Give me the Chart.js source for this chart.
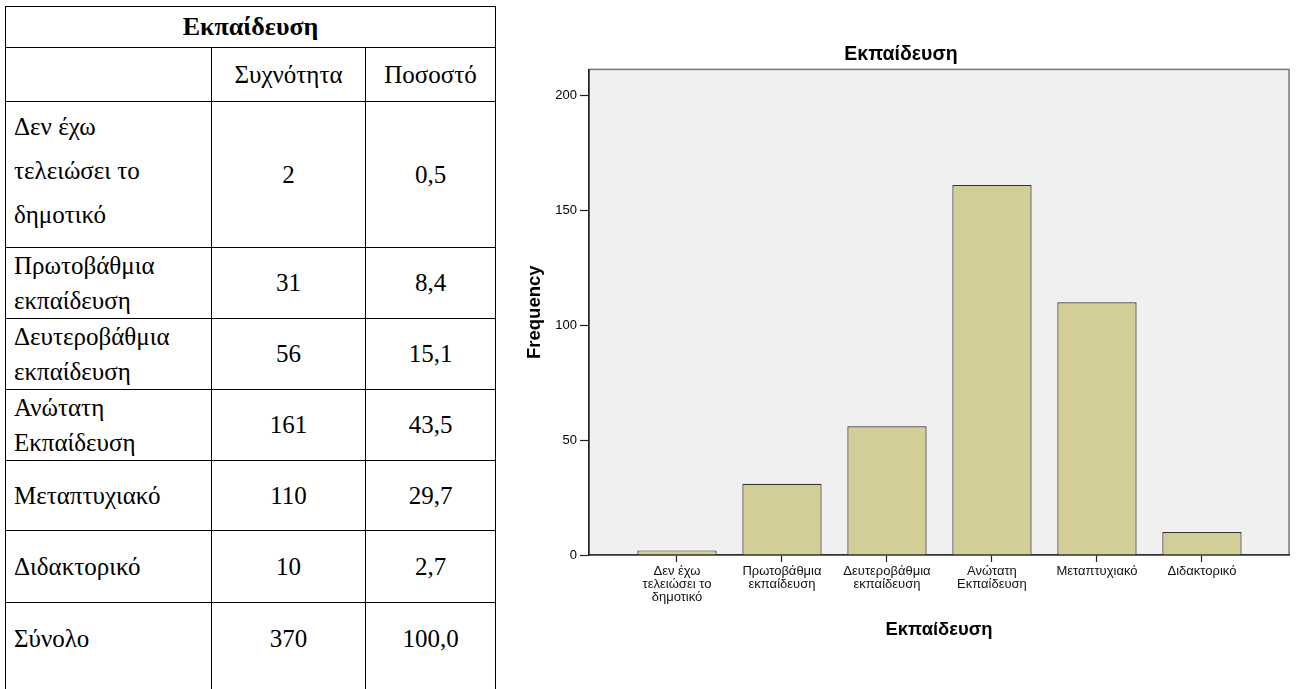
<!DOCTYPE html>
<html>
<head>
<meta charset="utf-8">
<script src="https://cdn.jsdelivr.net/npm/chart.js@4.4.1/dist/chart.umd.min.js"></script>
<style>
  html, body { margin: 0; padding: 0; background: #fff; width: 1301px; height: 689px; overflow: hidden; }
  #tbl { position: absolute; left: 5px; top: 6px; border-collapse: collapse; table-layout: fixed; font-family: "Liberation Serif", serif; font-size: 25px; color: #000; }
  #tbl td { border: 1.5px solid #000; padding: 0 8px; vertical-align: middle; white-space: nowrap; }
  #tbl td.num { text-align: center; }
  #tbl td.head { text-align: center; font-weight: bold; font-size: 26px; }
  #tbl tr.last td { border-bottom: none; vertical-align: top; padding-top: 21px; line-height: 29px; }
  #wrap { position: absolute; left: 505px; top: 0; width: 796px; height: 689px; }
</style>
</head>
<body>
<table id="tbl"></table>
<div id="wrap"><canvas id="myChart"></canvas></div>
<script>
const title = 'Εκπαίδευση'
const categories = ['Δεν έχω τελειώσει το δημοτικό', 'Πρωτοβάθμια εκπαίδευση', 'Δευτεροβάθμια εκπαίδευση', 'Ανώτατη Εκπαίδευση', 'Μεταπτυχιακό', 'Διδακτορικό']
const tickLabels = [['Δεν έχω', 'τελειώσει το', 'δημοτικό'], ['Πρωτοβάθμια', 'εκπαίδευση'], ['Δευτεροβάθμια', 'εκπαίδευση'], ['Ανώτατη', 'Εκπαίδευση'], ['Μεταπτυχιακό'], ['Διδακτορικό']]
const rowLabels = [['Δεν έχω', 'τελειώσει το', 'δημοτικό'], ['Πρωτοβάθμια', 'εκπαίδευση'], ['Δευτεροβάθμια', 'εκπαίδευση'], ['Ανώτατη', 'Εκπαίδευση'], ['Μεταπτυχιακό'], ['Διδακτορικό']]
const frequency = [2, 31, 56, 161, 110, 10]
const percent = ['0,5', '8,4', '15,1', '43,5', '29,7', '2,7']
const colHeads = ['Συχνότητα', 'Ποσοστό']
const total = ['Σύνολο', '370', '100,0']
const yTicks = [0, 50, 100, 150, 200]

// table on the left
const rowHeights = [146, 71, 71, 71, 70, 72]
const lineHeights = [44, 35, 35, 35, 36, 36]
let html = '<colgroup><col style="width:206px"><col style="width:154px"><col style="width:130px"></colgroup>'
html += '<tr style="height:41px"><td class="head" colspan="3">' + title + '</td></tr>'
html += '<tr style="height:54px"><td></td><td class="num">' + colHeads[0] + '</td><td class="num">' + colHeads[1] + '</td></tr>'
for (let i = 0; i < rowLabels.length; i++) {
    const pb = i === 0 ? 'padding-bottom:8px;' : ''
    html += '<tr style="height:' + rowHeights[i] + 'px"><td style="' + pb + 'line-height:' + lineHeights[i] + 'px">' + rowLabels[i].join('<br>') + '</td>'
    html += '<td class="num">' + frequency[i] + '</td><td class="num">' + percent[i] + '</td></tr>'
}
html += '<tr class="last" style="height:100px"><td>' + total[0] + '</td><td class="num">' + total[1] + '</td><td class="num">' + total[2] + '</td></tr>'
document.getElementById('tbl').innerHTML = html

const plotBox = {
    id: 'plotBox',
    beforeDraw(chart) {
        const {ctx, chartArea: a} = chart
        ctx.save()
        ctx.fillStyle = '#f0f0f0'
        ctx.fillRect(a.left, a.top, a.right - a.left, a.bottom - a.top)
        ctx.strokeStyle = '#777'
        ctx.lineWidth = 1.5
        ctx.strokeRect(a.left, a.top, a.right - a.left, a.bottom - a.top)
        ctx.restore()
    }
}

const ctx = document.getElementById('myChart').getContext('2d')
const myChart = new Chart(ctx, {
    type: 'bar',
    data: {
        datasets: [{
            label: 'Frequency',
            data: frequency.map((v, i) => ({x: i, y: v})),
            backgroundColor: '#d3ce97',
            borderColor: '#333',
            borderWidth: 1.2,
            categoryPercentage: 1,
            barPercentage: 0.755
        }]
    },
    options: {
        responsive: true,
        maintainAspectRatio: false,
        animation: false,
        layout: { padding: { left: 8, right: 12, top: 0, bottom: 0 } },
        plugins: {
            legend: { display: false },
            tooltip: { enabled: false },
            title: {
                display: true,
                text: title,
                color: '#000',
                font: { family: 'Liberation Sans', size: 19.5, weight: 'bold' },
                padding: { top: 43, bottom: 3 }
            }
        },
        scales: {
            x: {
                type: 'linear',
                offset: false,
                min: -0.838,
                max: 5.829,
                afterBuildTicks: (scale) => { scale.ticks = categories.map((c, i) => ({value: i})) },
                afterFit: (scale) => { scale.height = 134 },
                ticks: {
                    autoSkip: false,
                    maxRotation: 0,
                    color: '#111',
                    padding: 3,
                    font: { family: 'Liberation Sans', size: 13, lineHeight: 1.0 },
                    callback: (v) => tickLabels[v]
                },
                grid: { offset: false, drawOnChartArea: false, tickLength: 7, tickColor: '#222', tickWidth: 1.2 },
                border: { color: '#333', width: 1.5 },
                title: {
                    display: true,
                    text: title,
                    color: '#000',
                    font: { family: 'Liberation Sans', size: 18.4, weight: 'bold' },
                    padding: { top: 0, bottom: 48 }
                }
            },
            y: {
                min: 0,
                max: 211.3,
                afterBuildTicks: (scale) => { scale.ticks = yTicks.map(v => ({value: v})) },
                afterFit: (scale) => { scale.width = 76 },
                ticks: {
                    color: '#000',
                    padding: 3,
                    font: { family: 'Liberation Sans', size: 13 }
                },
                grid: { drawOnChartArea: false, tickLength: 9, tickColor: '#222', tickWidth: 1.2 },
                border: { color: '#222', width: 1.5 },
                title: {
                    display: true,
                    text: 'Frequency',
                    color: '#000',
                    font: { family: 'Liberation Sans', size: 18.5, weight: 'bold' },
                    padding: { top: 11, bottom: 0 }
                }
            }
        }
    },
    plugins: [plotBox]
})
</script>
</body>
</html>
